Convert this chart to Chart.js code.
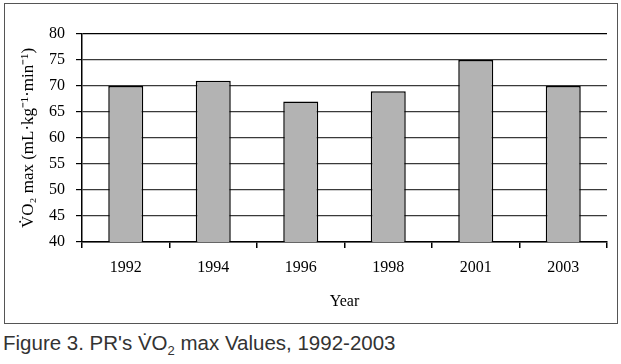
<!DOCTYPE html>
<html>
<head>
<meta charset="utf-8">
<script src="https://cdn.jsdelivr.net/npm/chart.js@4/dist/chart.umd.min.js"></script>
<style>
    body { margin: 0; background: #fff; }
    #cadre {
        position: absolute; left: 4px; top: 3px;
        width: 612px; height: 319px;
        border: 1px solid #555;
    }
    #legende {
        position: absolute; left: 3px; top: 331px;
        font: 20.5px 'Liberation Sans', Arial, sans-serif;
        color: #333; white-space: nowrap;
    }
    #legende sub { font-size: 13px; }
</style>
</head>
<body>
<div id="cadre"><canvas id="vo2-chart"></canvas></div>
<div id="legende">Figure 3. PR's V&#775;O<sub>2</sub> max Values, 1992-2003</div>
<script>
"use strict";

// données du graphique
const annees = ['1992', '1994', '1996', '1998', '2001', '2003'];
const vo2max = [70, 71, 67, 69, 75, 70];
const yMin = 40;
const yMax = 80;
const yPas = 5;

const titreY = 'V\u0307O\u2082 max (mL\u00b7kg\u207b\u00b9\u00b7min\u207b\u00b9)';
const titreX = 'Year';

const policeSerif = "'Liberation Serif', 'Times New Roman', serif";

const ctx = document.getElementById('vo2-chart');

const config = {
    type: 'bar',
    data: {
        labels: annees,
        datasets: [{
            data: vo2max,
            backgroundColor: '#b3b3b3',
            borderColor: '#000',
            borderWidth: 1.5,
            categoryPercentage: 1,
            barPercentage: 0.4
        }]
    },
    options: {
        responsive: true,
        maintainAspectRatio: false,
        animation: false,
        layout: {
            padding: {top: 30, right: 10, left: 0, bottom: 0}
        },
        plugins: {
            legend: {display: false},
            tooltip: {enabled: false}
        },
        scales: {
            x: {
                grid: {
                    offset: true,
                    // seule la derniere ligne sert de bord droit
                    color: (c) => c.index === annees.length ? '#000' : 'rgba(0,0,0,0)',
                    tickColor: '#000',
                    tickLength: 6,
                    lineWidth: 1.5
                },
                border: {color: '#000', width: 1.5},
                ticks: {
                    color: '#000',
                    padding: 10,
                    font: {family: policeSerif, size: 16}
                },
                title: {
                    display: true,
                    text: titreX,
                    color: '#000',
                    padding: {top: 0, bottom: 12},
                    font: {family: policeSerif, size: 16}
                },
                afterFit: function (scale) {
                    scale.height = 81;
                }
            },
            y: {
                min: yMin,
                max: yMax,
                grid: {
                    color: (c) => c.tick && c.tick.value === yMax ? '#000' : '#3a3a3a',
                    tickColor: '#000',
                    tickLength: 6,
                    lineWidth: 1.2
                },
                border: {color: '#000', width: 1.5},
                ticks: {
                    stepSize: yPas,
                    color: '#000',
                    padding: 11,
                    font: {family: policeSerif, size: 16}
                },
                title: {
                    display: true,
                    text: titreY,
                    color: '#000',
                    padding: {top: 13, bottom: 0},
                    font: {family: policeSerif, size: 17}
                },
                afterFit: function (scale) {
                    scale.width = 77;
                }
            }
        }
    }
};

new Chart(ctx, config);
</script>
</body>
</html>
